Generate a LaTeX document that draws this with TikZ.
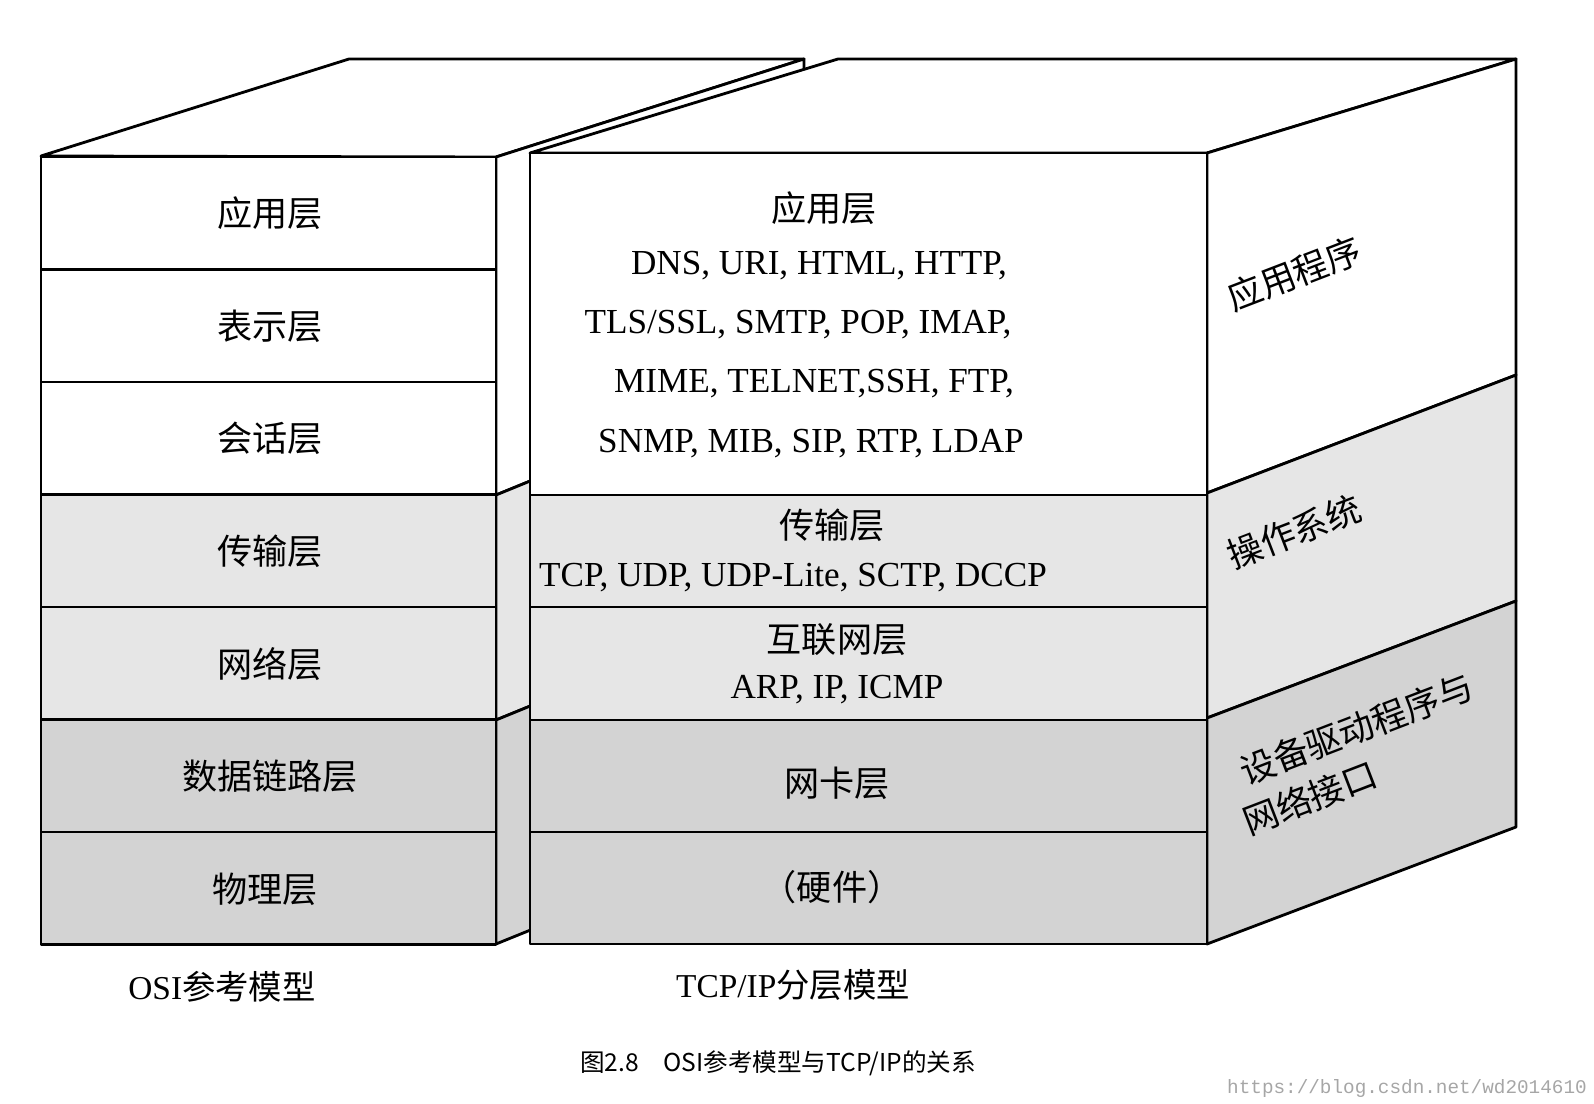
\documentclass[tikz,border=0pt]{standalone}
\usepackage{fontspec}
\setmainfont{Liberation Serif}
\setmonofont{Liberation Mono}
\newfontfamily\cjk{Noto Sans CJK SC}
\definecolor{lg}{HTML}{E6E6E6}
\definecolor{dg}{HTML}{D3D3D3}
\begin{document}
\begin{tikzpicture}[x=0.02cm,y=-0.02cm,line width=1.6pt,line join=round,
  lbl/.style={font=\fontsize{20}{22}\selectfont\cjk},
  eng/.style={font=\fontsize{20}{22}\selectfont},
  side/.style={font=\fontsize{20}{22}\selectfont\cjk,rotate=21,anchor=base west,inner sep=0pt}]
\useasboundingbox (0,0) rectangle (1594,1104);
% left block top face
\draw[fill=white] (41,156) -- (349,59) -- (804,59) -- (496,157) -- cycle;
% left block side face
\draw[fill=white] (496,157) -- (804,59) -- (804,369) -- (496,495) -- cycle;
\draw[fill=lg] (496,495) -- (804,369) -- (804,594) -- (496,720) -- cycle;
\draw[fill=dg] (496,720) -- (804,594) -- (804,819) -- (496,944) -- cycle;
% left block front
\foreach \t [count=\i from 0] in {white,white,white,lg,lg,dg,dg}{
  \draw[fill=\t] (41,{157+112.5*\i}) rectangle (496,{157+112.5*(\i+1)});
}
\node[lbl] (o1) at (270,213) {应用层};
\node[lbl] (o2) at (270,326) {表示层};
\node[lbl] (o3) at (270,438) {会话层};
\node[lbl] (o4) at (270,551) {传输层};
\node[lbl] (o5) at (270,664) {网络层};
\node[lbl] (o6) at (270,776) {数据链路层};
\node[lbl] (o7) at (265,889) {物理层};
% right block top face
\draw[fill=white] (530,153) -- (838,59) -- (1516,59) -- (1207,153) -- cycle;
% right block side face
\draw[fill=white] (1207,153) -- (1516,59) -- (1516,375) -- (1207,493) -- cycle;
\draw[fill=lg] (1207,493) -- (1516,375) -- (1516,601) -- (1207,718) -- cycle;
\draw[fill=dg] (1207,718) -- (1516,601) -- (1516,827) -- (1207,944) -- cycle;
% right block front
\draw[fill=white] (530,153) rectangle (1207,495);
\draw[fill=lg] (530,495) rectangle (1207,607);
\draw[fill=lg] (530,607) rectangle (1207,720);
\draw[fill=dg] (530,720) rectangle (1207,832);
\draw[fill=dg] (530,832) rectangle (1207,944);
\node[lbl] (t1) at (824,208) {应用层};
\node[eng] (t1a) at (819,266) {DNS, URI, HTML, HTTP,};
\node[eng] (t1b) at (798,325) {TLS/SSL, SMTP, POP, IMAP,};
\node[eng] (t1c) at (814,384) {MIME, TELNET,SSH, FTP,};
\node[eng] (t1d) at (811,444) {SNMP, MIB, SIP, RTP, LDAP};
\node[lbl] (t2) at (832,525) {传输层};
\node[eng] (t2a) at (793,578) {TCP, UDP, UDP-Lite, SCTP, DCCP};
\node[lbl] (t3) at (837,640) {互联网层};
\node[eng] (t3a) at (837,690) {ARP, IP, ICMP};
\node[lbl] (t4) at (837,783) {网卡层};
\node[lbl] (t5) at (832,887) {（硬件）};
% side labels
\node[side] (s1) at (1232,312) {应用程序};
\node[side] (s2) at (1232,570) {操作系统};
\node[side] (s3) at (1245,786) {设备驱动程序与};
\node[side] (s4) at (1248,836) {网络接口};
% bottom labels
\node[font=\fontsize{19}{21}\selectfont] (b1) at (222,987) {OSI{\cjk 参考模型}};
\node[font=\fontsize{19}{21}\selectfont] (b2) at (793,985) {TCP/IP{\cjk 分层模型}};
\node[font=\fontsize{14}{16}\selectfont\cjk] (cap) at (778,1063) {图2.8\quad OSI参考模型与TCP/IP的关系};
\node[font=\fontsize{11}{13}\selectfont\ttfamily,text=gray!70,anchor=east] (wm) at (1594,1088) {https://blog.csdn.net/wd2014610};
\end{tikzpicture}
\end{document}
